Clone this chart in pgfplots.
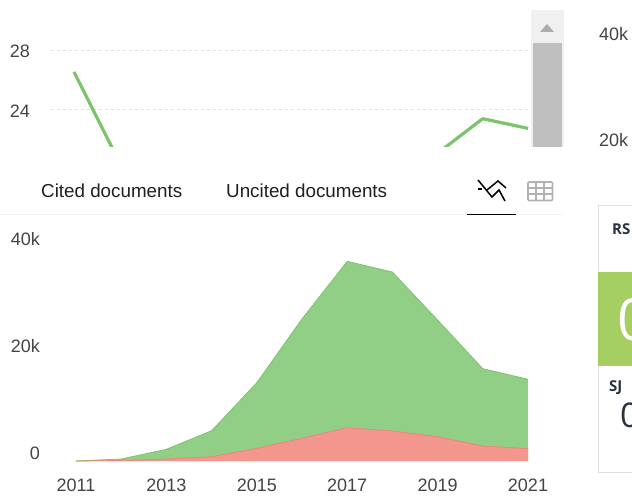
\documentclass[border=0pt]{standalone}
\usepackage{pgfplots}
\usepackage{pgfplotstable}
\usepackage{fontspec}
\setmainfont{Liberation Sans}
\newfontfamily\cardfont{Open Sans}
\pgfplotsset{compat=1.18}
\definecolor{txt}{HTML}{444444}
\definecolor{gline}{HTML}{7CC36E}
\definecolor{gfill}{HTML}{92CF86}
\definecolor{rline}{HTML}{F0837A}
\definecolor{rfill}{HTML}{F3968E}
\definecolor{cardg}{HTML}{A6CF63}
\definecolor{navy}{HTML}{2A3142}
\pgfplotstableread{
year total uncited
2011 0 0
2012 370 90
2013 2190 370
2014 5660 800
2015 14630 2370
2016 26540 4240
2017 37320 6220
2018 35320 5610
2019 26350 4540
2020 17250 2800
2021 15270 2300
}\areadata
\pgfplotstableread{
year value
2011 26.53
2012 20.4
2019 21.0
2020 23.36
2021 22.7
}\linedata
\newcommand{\fs}{\fontsize{18}{20}\selectfont}
\newcommand{\tabfs}{\fontsize{18.8}{21}\selectfont}
\begin{document}
\begin{tikzpicture}[x=1pt,y=1pt]
\useasboundingbox (0,0) rectangle (632,501);
\clip (0,0) rectangle (632,501);
% top line chart
\begin{axis}[
  at={(51pt,354.3pt)},anchor=south west,
  width=478pt,height=126.7pt,scale only axis,
  xmin=2010.493,xmax=2021.02,ymin=21.46,ymax=30.05,
  axis line style={draw=none},
  xtick=\empty,ytick={24,28},
  major tick length=0pt,
  ymajorgrids,
  grid style={draw=black!12,dashed,line width=0.7pt},
  /pgf/number format/assume math mode=true,
  tick label style={font=\fs,text=txt,inner sep=0pt,outer sep=0pt},
  every y tick label/.append style={xshift=-21pt,yshift=-1.5pt},
]
\addplot[gline,line width=3.2pt,line join=round] table[x=year,y=value] {\linedata};
\end{axis}
% bottom area chart
\begin{axis}[
  at={(76pt,40pt)},anchor=south west,
  width=452pt,height=214pt,scale only axis,
  xmin=2011,xmax=2021,ymin=0,ymax=40000,
  axis line style={draw=none},
  scaled y ticks=false,
  xtick={2011,2013,2015,2017,2019,2021},
  xticklabels={2011,2013,2015,2017,2019,2021},
  ytick={0,20000,40000},
  yticklabels={0,20k,40k},
  major tick length=0pt,
  /pgf/number format/assume math mode=true,
  tick label style={font=\fs,text=txt,inner sep=0pt,outer sep=0pt},
  every x tick label/.append style={yshift=-18pt},
  every y tick label/.append style={xshift=-36pt,yshift=7.5pt},
]
\addplot[draw=none,fill=gfill] table[x=year,y=total] {\areadata} \closedcycle;
\addplot[draw=none,fill=rfill] table[x=year,y=uncited] {\areadata} \closedcycle;
\addplot[gline,line width=0.8pt] table[x=year,y=total] {\areadata};
\addplot[rline,line width=0.8pt] table[x=year,y=uncited] {\areadata};
\end{axis}
% scrollbar
\fill[black!6] (531,354.3) rectangle (564,491);
\fill[black!25] (533,354.3) rectangle (562,458);
\fill[black!32] (540,469) -- (554,469) -- (547,477) -- cycle;
% tabs
\node[anchor=west,inner sep=0,font=\tabfs,text=black!88] at (41,310) {Cited documents};
\node[anchor=west,inner sep=0,font=\tabfs,text=black!88] at (226,310) {Uncited documents};
\draw[black!5,line width=0.7pt] (0,286.5) -- (563,286.5);
\draw[black,line width=1.1pt] (467,286.5) -- (516,286.5);
% line icon
\draw[black,line width=1.5pt] (478,312) -- (482,312);
\draw[black,line width=1.5pt] (478,321) -- (492,304) -- (499,311) -- (505,300);
\draw[black,line width=1.5pt] (487,311) -- (498,320) -- (506,313);
% table icon
\draw[black!30,line width=1.6pt,rounded corners=1pt] (528,300.5) rectangle (552.5,319);
\draw[black!30,line width=1.3pt] (528,307) -- (552.5,307) (528,313) -- (552.5,313)
  (536,300.5) -- (536,319) (544,300.5) -- (544,319);
% right chart labels
\node[anchor=west,inner sep=0,font=\fs,text=txt] at (599,467) {40k};
\node[anchor=west,inner sep=0,font=\fs,text=txt] at (599,361) {20k};
% right card
\draw[black!12,line width=0.7pt] (640,296) -- (598.5,296) -- (598.5,29) -- (640,29);
\fill[cardg] (598,135) rectangle (640,229.3);
\node[anchor=west,inner sep=0,text=navy,font=\cardfont\bfseries\fontsize{15}{17}\selectfont] at (612,272) {RS};
\node[anchor=west,inner sep=0,text=navy,font=\cardfont\bfseries\fontsize{15}{17}\selectfont] at (609,113) {SJ};
\node[anchor=west,inner sep=0,text=white,font=\cardfont\fontsize{58}{60}\selectfont] at (617,181) {0};
\node[anchor=west,inner sep=0,text=navy,font=\cardfont\fontsize{34}{36}\selectfont] at (620,86) {0};
\end{tikzpicture}
\end{document}
